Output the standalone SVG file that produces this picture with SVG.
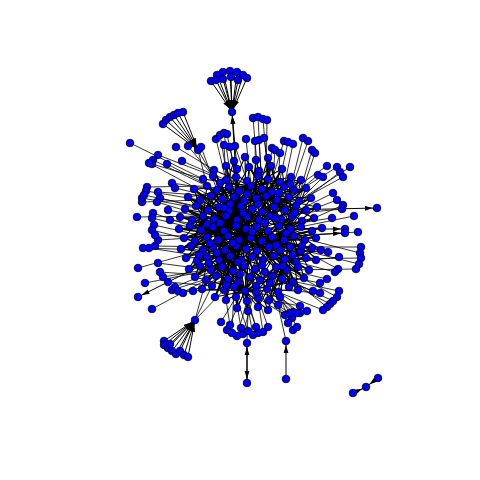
<svg xmlns="http://www.w3.org/2000/svg" width="480" height="480" viewBox="0 0 480 480">
<style>
.e{fill:none;stroke:#000;stroke-width:0.8}
.c{fill:none;stroke:#000;stroke-width:1.1}
.a{fill:none;stroke:#000;stroke-width:1;marker-end:url(#ah)}
circle{fill:#0000ff;stroke:#000;stroke-width:0.8}
</style>
<defs><marker id="ah" markerUnits="userSpaceOnUse" markerWidth="14" markerHeight="6" refX="12" refY="3" orient="auto"><path d="M0,0.6 L8,3 L0,5.4z" fill="#000"/></marker></defs>
<rect width="480" height="480" fill="#fff"/>
<g id="edges">
<path class="c" d="M237 220L234 161M237 220L214 170M237 220L226 166M237 220L237 169M237 220L203 179M237 220L213 176M237 220L226 180M237 220L236 177M237 220L247 181M237 220L194 189M237 220L207 186M237 220L217 190M237 220L229 187M237 220L239 191M237 220L188 197M237 220L200 200M237 220L211 196M237 220L222 199M237 220L234 197M237 220L244 201M237 220L185 209M237 220L196 206M237 220L208 210M237 220L219 207M237 220L229 211M237 220L241 206M237 220L180 217M237 220L192 220M237 220L203 216M237 220L214 219M237 220L226 216M237 220L179 229M237 220L190 226M237 220L201 230M237 220L213 227M237 220L224 231M237 220L236 226M237 220L184 238M237 220L195 241M237 220L207 237M237 220L218 240M237 220L228 236M237 220L239 240M237 220L181 249M237 220L191 246"/>
<path class="c" d="M266 196L245 157M266 196L256 160M266 196L268 158M266 196L249 167M266 196L259 171M266 196L271 166M266 196L282 169M266 196L258 176M266 196L268 179M266 196L280 182M266 196L291 177M266 196L301 180M266 196L251 186M266 196L262 189M266 196L272 192M266 196L284 187M266 196L294 190M266 196L306 188M266 196L256 198M266 196L277 200M266 196L289 197M266 196L299 201M266 196L311 198M266 196L252 209M266 196L262 212M266 196L274 207M266 196L285 210M266 196L296 206M266 196L306 210M266 196L317 207M266 196L247 217M266 196L259 220M266 196L270 216M266 196L281 219M266 196L292 217M266 196L302 221M266 196L314 218M266 196L229 211M266 196L241 206M266 196L244 201M266 196L239 191"/>
<path class="c" d="M262 241L246 229M262 241L257 227M262 241L268 231M262 241L279 226M262 241L290 229M262 241L301 227M262 241L312 231M262 241L322 228M262 241L251 238M262 241L272 237M262 241L284 240M262 241L294 236M262 241L305 240M262 241L316 238M262 241L246 249M262 241L257 251M262 241L269 247M262 241L280 250M262 241L290 247M262 241L301 251M262 241L312 248M262 241L321 250M262 241L252 257M262 241L263 260M262 241L274 256M262 241L255 269M262 241L265 272M262 241L247 217M262 241L259 220M262 241L270 216M262 241L281 219M262 241L292 217M262 241L302 221M262 241L314 218"/>
<path class="c" d="M230 256L203 250M230 256L213 247M230 256L225 250M230 256L236 246M230 256L186 258M230 256L197 261M230 256L207 257M230 256L219 260M230 256L241 260M230 256L189 269M230 256L200 266M230 256L211 270M230 256L222 267M230 256L233 271M230 256L244 266M230 256L195 277M230 256L206 280M230 256L216 276M230 256L228 279M230 256L238 282M230 256L250 277M230 256L202 289M230 256L212 286M230 256L224 290M230 256L234 287M230 256L245 291M230 256L215 297M230 256L226 300M230 256L236 297M230 256L247 301M230 256L237 308M230 256L248 311M230 256L218 240M230 256L207 237M230 256L195 241M230 256L184 238M230 256L181 249M230 256L191 246"/>
<path class="c" d="M285 259L296 262M285 259L306 258M285 259L316 260M285 259L276 267M285 259L287 270M285 259L298 267M285 259L309 270M285 259L260 280M285 259L272 276M285 259L282 279M285 259L293 282M285 259L304 278M285 259L256 286M285 259L267 289M285 259L278 292M285 259L289 287M285 259L298 290M285 259L258 298M285 259L269 300M285 259L280 297M285 259L258 307M285 259L268 310M285 259L290 247M285 259L301 251M285 259L312 248M285 259L321 250M285 259L274 256M285 259L263 260"/>
<path class="c" d="M237 220L262 241M237 220L230 256M237 220L266 196M262 241L230 256M262 241L266 196M262 241L285 259M230 256L285 259M266 196L285 259M213 227L262 241M251 238L203 250M251 238L222 199M251 238L277 200M251 238L233 271"/>
<path class="c" d="M213 227L234 161M213 227L245 157M213 227L249 167M213 227L258 176M213 227L268 179M213 227L280 182M213 227L262 189M213 227L272 192M213 227L256 198M213 227L252 209M213 227L262 212M213 227L259 220M213 227L257 227M213 227L268 231M213 227L251 238M213 227L246 249M213 227L257 251M213 227L252 257M213 227L241 260M213 227L244 266M213 227L255 269M213 227L250 277M213 227L238 282M213 227L245 291M213 227L236 297M213 227L226 300M213 227L228 279M213 227L233 271M213 227L188 197M213 227L185 209M213 227L180 217M213 227L179 229M213 227L184 238M213 227L181 249M213 227L186 258M213 227L189 269M213 227L195 277M213 227L202 289"/>
<path class="c" d="M290 229L268 158M290 229L271 166M290 229L282 169M290 229L291 177M290 229L301 180M290 229L306 188M290 229L311 198M290 229L317 207M290 229L314 218M290 229L322 228M290 229L316 238M290 229L321 250M290 229L316 260M290 229L309 270M290 229L304 278M290 229L298 290M290 229L280 297M290 229L289 287M290 229L269 300M290 229L265 272M290 229L255 269M290 229L252 257M290 229L246 249M290 229L246 229M290 229L247 217M290 229L252 209M290 229L256 198M290 229L251 186M290 229L259 171"/>
<path class="c" d="M251 186L214 170M251 186L226 166M251 186L203 179M251 186L194 189M251 186L188 197M251 186L200 200M251 186L211 196M251 186L222 199M251 186L219 207M251 186L229 211M251 186L226 216M251 186L236 226M251 186L224 231M251 186L228 236M251 186L239 240M251 186L246 229M251 186L257 227M251 186L279 226M251 186L281 219M251 186L292 217M251 186L296 206M251 186L299 201M251 186L294 190M251 186L301 180M251 186L291 177M251 186L282 169M251 186L271 166"/>
<path class="c" d="M245 291L215 297M245 291L202 289M245 291L206 280M245 291L195 277M245 291L211 270M245 291L200 266M245 291L219 260M245 291L207 257M245 291L225 250M245 291L236 246M245 291L251 238M245 291L262 241M245 291L269 247M245 291L274 256M245 291L287 270M245 291L298 267M245 291L293 282M245 291L304 278M245 291L298 290M245 291L280 297M245 291L268 310M245 291L258 307M245 291L237 308M245 291L248 311M245 291L226 300"/>
<path class="c" d="M203 216L185 209M203 216L196 206M203 216L192 220M203 216L190 226M203 216L201 230M203 216L184 238M203 216L195 241M203 216L207 237M203 216L218 240M203 216L213 247M203 216L203 250M203 216L191 246M203 216L214 219M203 216L219 207M203 216L208 210M203 216L200 200M203 216L211 196M203 216L194 189M203 216L207 186M203 216L217 190M203 216L229 187M203 216L236 177M203 216L226 180"/>
<path class="c" d="M230 204L237 220M230 204L266 196M258 204L237 220M258 204L262 241M243 213L230 256M243 213L266 196M220 223L262 241M220 223L251 186M265 223L230 256M265 223L237 220M252 232L213 227M252 232L285 259M233 243L266 196M233 243L245 291M276 245L237 220M276 245L245 291M217 253L262 241M217 253L237 220M262 265L237 220M262 265L230 256M240 274L262 241M240 274L213 227M283 266L262 241M283 266L245 291M226 285L230 256M226 285L262 241M270 283L285 259M270 283L230 256M209 263L237 220M209 263L245 291M293 255L262 241M293 255L251 186M295 213L266 196M295 213L262 241M207 224L237 220M207 224L230 256M247 194L237 220M247 194L290 229M279 193L266 196M279 193L213 227M220 183L237 220M220 183L251 186M290 184L266 196M290 184L290 229M199 255L230 256M199 255L213 227M302 246L262 241M302 246L285 259M256 292L245 291M256 292L285 259M238 262L262 241M238 262L203 216M275 218L237 220M275 218L285 259M224 208L213 227M224 208L266 196M286 233L262 241M286 233L251 186M210 243L237 220M210 243L245 291"/>
<path class="c" d="M234 161L258 307M245 157L248 311M256 160L237 308M268 158L226 300M214 170L280 297M282 169L215 297M203 179L298 290M301 180L202 289M194 189L304 278M306 188L195 277M188 197L309 270M311 198L189 269M185 209L316 260M317 207L186 258M180 217L321 250M314 218L181 249M179 229L316 238M322 228L184 238M184 238L317 207M181 249L311 198M186 258L306 188M189 269L301 180M195 277L291 177M202 289L282 169M215 297L271 166M226 300L259 171M237 308L249 167M248 311L237 169M258 307L226 166M268 310L214 170M280 297L203 179M298 290L194 189M304 278L188 197M309 270L185 209M316 260L180 217M321 250L179 229M226 166L269 300M237 169L247 301M259 171L236 297M271 166L224 290M291 177L212 286M213 176L289 287M207 186L293 282M294 190L206 280M196 206L298 267M306 210L200 266M192 220L305 240M302 221L191 246M190 226L312 248M312 231L197 261M195 241L306 258M301 251L200 200M203 250L299 201M296 262L208 210M211 270L289 197M287 270L211 196M222 267L277 200M276 267L222 199M233 271L262 189M265 272L229 187"/>
<path class="e" d="M253 118L258 176M258 117L262 189M263 119L268 179M267 120L266 196M246 139L251 186M255 141L256 198M259 140L262 189M264 138L272 192M216 139L226 180M220 135L229 187M224 133L234 197M227 134L239 191M235 146L247 181M230 147L236 177M224 145L226 180M201 147L217 190M176 147L214 170M188 146L213 176M198 150L207 186M198 150L213 176"/>
<path class="e" d="M272 148L266 196M275 150L272 192M280 153L277 200M284 141L262 212M288 142L274 207M293 144L284 187M303 138L285 210M308 141L289 197M312 150L296 206M315 153L299 201M327 166L277 200M337 167L289 197M350 167L285 210M340 172L296 206M343 177L299 201M318 175L270 216M323 177L281 219M333 193L281 219M337 200L292 217M343 205L290 229M342 209L270 216M332 218L279 226M354 216L290 229M358 232L272 237"/>
<path class="e" d="M361 247L290 247M360 253L294 236M361 258L285 259M359 264L290 247M356 269L287 270M338 269L284 240M335 272L285 259M339 257L296 262M328 252L280 250M327 279L276 267M339 291L282 279M337 297L287 270M333 301L293 282M330 304L282 279M327 307L276 267M323 310L278 292M320 283L265 272M313 291L272 276M320 293L267 289M307 311L278 292M300 306L269 300M300 313L280 297M293 312L267 289M292 318L269 300M293 330L280 297M297 327L278 292M288 323L267 289M285 315L258 298M290 313L269 300M297 313L280 297M278 305L260 280M286 341L278 305"/>
<path class="e" d="M221 322L236 297M227 330L245 291M232 333L234 287M237 336L247 301M243 334L256 286M248 331L236 297M253 335L245 291M258 333L247 301M263 332L256 286M268 327L258 298M241 328L234 287M256 327L245 291M230 325L226 300M247 343L248 311M195 320L212 286M195 320L206 280M195 320L224 290"/>
<path class="e" d="M138 268L203 250M145 283L211 270M152 309L206 280M143 248L203 250M149 248L207 257M155 246L213 247M158 240L207 237M158 263L211 270M160 272L216 276M163 277L222 267M168 282L212 286M172 290L216 276M175 287L222 267M178 291L224 290M183 293L228 279M193 291L233 271M130 143L203 179M137 217L203 216M142 202L200 200M142 198L208 210M147 187L207 186M146 191L200 200M144 195L196 206M158 155L213 176M153 160L207 186M152 164L203 179M149 163L211 196M167 164L217 190M182 161L226 180M158 192L211 196M160 198L208 210M157 202L203 216M153 213L203 230M152 218L201 230M154 225L207 237M152 230L195 241M155 235L207 237M172 183L217 190M175 188L222 199M168 210L214 219M170 220L213 227"/>
<path class="a" d="M211 81L232 112"/><path class="a" d="M217 75L232 112"/><path class="a" d="M223 72L232 112"/><path class="a" d="M230 71L232 112"/><path class="a" d="M237 72L232 112"/><path class="a" d="M243 75L232 112"/><path class="a" d="M247 78L232 112"/><path class="a" d="M216 80L232 112"/><path class="a" d="M223 79L232 112"/><path class="a" d="M231 77L232 112"/><path class="a" d="M238 80L232 112"/>
<path class="a" d="M236 177L232 112"/><path class="a" d="M237 169L232 112"/>
<path class="a" d="M163 124L198 150"/><path class="a" d="M166 120L198 150"/><path class="a" d="M170 117L198 150"/><path class="a" d="M174 115L198 150"/><path class="a" d="M178 113L198 150"/><path class="a" d="M183 112L198 150"/>
<path class="a" d="M164 341L195 320"/><path class="a" d="M164 345L195 320"/><path class="a" d="M168 348L195 320"/><path class="a" d="M172 351L195 320"/><path class="a" d="M176 354L195 320"/><path class="a" d="M180 351L195 320"/><path class="a" d="M184 355L195 320"/><path class="a" d="M188 357L195 320"/><path class="a" d="M170 344L195 320"/>
<path class="a" d="M285 210L377 208"/><path class="a" d="M200 266L138 297"/><path class="a" d="M290 229L345 229"/><path class="a" d="M294 236L345 233"/>
<path class="a" d="M247 383L247 343"/><path class="a" d="M247 343L247 383"/><path class="a" d="M286 379L286 341"/>
<path class="a" d="M353 393L366 387"/><path class="a" d="M378 378L366 387"/>
</g>
<g id="nodes">
<g id="b1"><circle cx="234" cy="161" r="3.8"/></g><g id="b2"><circle cx="245" cy="157" r="3.8"/></g><g id="b3"><circle cx="256" cy="160" r="3.8"/></g><g id="b4"><circle cx="268" cy="158" r="3.8"/></g>
<g id="b5"><circle cx="214" cy="170" r="3.8"/></g><g id="b6"><circle cx="226" cy="166" r="3.8"/></g><g id="b7"><circle cx="237" cy="169" r="3.8"/></g><g id="b8"><circle cx="249" cy="167" r="3.8"/></g><g id="b9"><circle cx="259" cy="171" r="3.8"/></g><g id="b10"><circle cx="271" cy="166" r="3.8"/></g><g id="b11"><circle cx="282" cy="169" r="3.8"/></g>
<g id="b12"><circle cx="203" cy="179" r="3.8"/></g><g id="b13"><circle cx="213" cy="176" r="3.8"/></g><g id="b14"><circle cx="226" cy="180" r="3.8"/></g><g id="b15"><circle cx="236" cy="177" r="3.8"/></g><g id="b16"><circle cx="247" cy="181" r="3.8"/></g><g id="b17"><circle cx="258" cy="176" r="3.8"/></g><g id="b18"><circle cx="268" cy="179" r="3.8"/></g><g id="b19"><circle cx="280" cy="182" r="3.8"/></g><g id="b20"><circle cx="291" cy="177" r="3.8"/></g><g id="b21"><circle cx="301" cy="180" r="3.8"/></g>
<g id="b22"><circle cx="194" cy="189" r="3.8"/></g><g id="b23"><circle cx="207" cy="186" r="3.8"/></g><g id="b24"><circle cx="217" cy="190" r="3.8"/></g><g id="b25"><circle cx="229" cy="187" r="3.8"/></g><g id="b26"><circle cx="239" cy="191" r="3.8"/></g><g id="b27"><circle cx="251" cy="186" r="3.8"/></g><g id="b28"><circle cx="262" cy="189" r="3.8"/></g><g id="b29"><circle cx="272" cy="192" r="3.8"/></g><g id="b30"><circle cx="284" cy="187" r="3.8"/></g><g id="b31"><circle cx="294" cy="190" r="3.8"/></g><g id="b32"><circle cx="306" cy="188" r="3.8"/></g>
<g id="b33"><circle cx="188" cy="197" r="3.8"/></g><g id="b34"><circle cx="200" cy="200" r="3.8"/></g><g id="b35"><circle cx="211" cy="196" r="3.8"/></g><g id="b36"><circle cx="222" cy="199" r="3.8"/></g><g id="b37"><circle cx="234" cy="197" r="3.8"/></g><g id="b38"><circle cx="244" cy="201" r="3.8"/></g><g id="b39"><circle cx="256" cy="198" r="3.8"/></g><g id="b40"><circle cx="266" cy="196" r="3.8"/></g><g id="b41"><circle cx="277" cy="200" r="3.8"/></g><g id="b42"><circle cx="289" cy="197" r="3.8"/></g><g id="b43"><circle cx="299" cy="201" r="3.8"/></g><g id="b44"><circle cx="311" cy="198" r="3.8"/></g>
<g id="b45"><circle cx="185" cy="209" r="3.8"/></g><g id="b46"><circle cx="196" cy="206" r="3.8"/></g><g id="b47"><circle cx="208" cy="210" r="3.8"/></g><g id="b48"><circle cx="219" cy="207" r="3.8"/></g><g id="b49"><circle cx="229" cy="211" r="3.8"/></g><g id="b50"><circle cx="241" cy="206" r="3.8"/></g><g id="b51"><circle cx="252" cy="209" r="3.8"/></g><g id="b52"><circle cx="262" cy="212" r="3.8"/></g><g id="b53"><circle cx="274" cy="207" r="3.8"/></g><g id="b54"><circle cx="285" cy="210" r="3.8"/></g><g id="b55"><circle cx="296" cy="206" r="3.8"/></g><g id="b56"><circle cx="306" cy="210" r="3.8"/></g><g id="b57"><circle cx="317" cy="207" r="3.8"/></g>
<g id="b58"><circle cx="180" cy="217" r="3.8"/></g><g id="b59"><circle cx="192" cy="220" r="3.8"/></g><g id="b60"><circle cx="203" cy="216" r="3.8"/></g><g id="b61"><circle cx="214" cy="219" r="3.8"/></g><g id="b62"><circle cx="226" cy="216" r="3.8"/></g><g id="b63"><circle cx="237" cy="220" r="3.8"/></g><g id="b64"><circle cx="247" cy="217" r="3.8"/></g><g id="b65"><circle cx="259" cy="220" r="3.8"/></g><g id="b66"><circle cx="270" cy="216" r="3.8"/></g><g id="b67"><circle cx="281" cy="219" r="3.8"/></g><g id="b68"><circle cx="292" cy="217" r="3.8"/></g><g id="b69"><circle cx="302" cy="221" r="3.8"/></g><g id="b70"><circle cx="314" cy="218" r="3.8"/></g>
<g id="b71"><circle cx="179" cy="229" r="3.8"/></g><g id="b72"><circle cx="190" cy="226" r="3.8"/></g><g id="b73"><circle cx="201" cy="230" r="3.8"/></g><g id="b74"><circle cx="213" cy="227" r="3.8"/></g><g id="b75"><circle cx="224" cy="231" r="3.8"/></g><g id="b76"><circle cx="236" cy="226" r="3.8"/></g><g id="b77"><circle cx="246" cy="229" r="3.8"/></g><g id="b78"><circle cx="257" cy="227" r="3.8"/></g><g id="b79"><circle cx="268" cy="231" r="3.8"/></g><g id="b80"><circle cx="279" cy="226" r="3.8"/></g><g id="b81"><circle cx="290" cy="229" r="3.8"/></g><g id="b82"><circle cx="301" cy="227" r="3.8"/></g><g id="b83"><circle cx="312" cy="231" r="3.8"/></g><g id="b84"><circle cx="322" cy="228" r="3.8"/></g>
<g id="b85"><circle cx="184" cy="238" r="3.8"/></g><g id="b86"><circle cx="195" cy="241" r="3.8"/></g><g id="b87"><circle cx="207" cy="237" r="3.8"/></g><g id="b88"><circle cx="218" cy="240" r="3.8"/></g><g id="b89"><circle cx="228" cy="236" r="3.8"/></g><g id="b90"><circle cx="239" cy="240" r="3.8"/></g><g id="b91"><circle cx="251" cy="238" r="3.8"/></g><g id="b92"><circle cx="262" cy="241" r="3.8"/></g><g id="b93"><circle cx="272" cy="237" r="3.8"/></g><g id="b94"><circle cx="284" cy="240" r="3.8"/></g><g id="b95"><circle cx="294" cy="236" r="3.8"/></g><g id="b96"><circle cx="305" cy="240" r="3.8"/></g><g id="b97"><circle cx="316" cy="238" r="3.8"/></g>
<g id="b98"><circle cx="181" cy="249" r="3.8"/></g><g id="b99"><circle cx="191" cy="246" r="3.8"/></g><g id="b100"><circle cx="203" cy="250" r="3.8"/></g><g id="b101"><circle cx="213" cy="247" r="3.8"/></g><g id="b102"><circle cx="225" cy="250" r="3.8"/></g><g id="b103"><circle cx="236" cy="246" r="3.8"/></g><g id="b104"><circle cx="246" cy="249" r="3.8"/></g><g id="b105"><circle cx="257" cy="251" r="3.8"/></g><g id="b106"><circle cx="269" cy="247" r="3.8"/></g><g id="b107"><circle cx="280" cy="250" r="3.8"/></g><g id="b108"><circle cx="290" cy="247" r="3.8"/></g><g id="b109"><circle cx="301" cy="251" r="3.8"/></g><g id="b110"><circle cx="312" cy="248" r="3.8"/></g><g id="b111"><circle cx="321" cy="250" r="3.8"/></g>
<g id="b112"><circle cx="186" cy="258" r="3.8"/></g><g id="b113"><circle cx="197" cy="261" r="3.8"/></g><g id="b114"><circle cx="207" cy="257" r="3.8"/></g><g id="b115"><circle cx="219" cy="260" r="3.8"/></g><g id="b116"><circle cx="230" cy="256" r="3.8"/></g><g id="b117"><circle cx="241" cy="260" r="3.8"/></g><g id="b118"><circle cx="252" cy="257" r="3.8"/></g><g id="b119"><circle cx="263" cy="260" r="3.8"/></g><g id="b120"><circle cx="274" cy="256" r="3.8"/></g><g id="b121"><circle cx="285" cy="259" r="3.8"/></g><g id="b122"><circle cx="296" cy="262" r="3.8"/></g><g id="b123"><circle cx="306" cy="258" r="3.8"/></g><g id="b124"><circle cx="316" cy="260" r="3.8"/></g>
<g id="b125"><circle cx="189" cy="269" r="3.8"/></g><g id="b126"><circle cx="200" cy="266" r="3.8"/></g><g id="b127"><circle cx="211" cy="270" r="3.8"/></g><g id="b128"><circle cx="222" cy="267" r="3.8"/></g><g id="b129"><circle cx="233" cy="271" r="3.8"/></g><g id="b130"><circle cx="244" cy="266" r="3.8"/></g><g id="b131"><circle cx="255" cy="269" r="3.8"/></g><g id="b132"><circle cx="265" cy="272" r="3.8"/></g><g id="b133"><circle cx="276" cy="267" r="3.8"/></g><g id="b134"><circle cx="287" cy="270" r="3.8"/></g><g id="b135"><circle cx="298" cy="267" r="3.8"/></g><g id="b136"><circle cx="309" cy="270" r="3.8"/></g>
<g id="b137"><circle cx="195" cy="277" r="3.8"/></g><g id="b138"><circle cx="206" cy="280" r="3.8"/></g><g id="b139"><circle cx="216" cy="276" r="3.8"/></g><g id="b140"><circle cx="228" cy="279" r="3.8"/></g><g id="b141"><circle cx="238" cy="282" r="3.8"/></g><g id="b142"><circle cx="250" cy="277" r="3.8"/></g><g id="b143"><circle cx="260" cy="280" r="3.8"/></g><g id="b144"><circle cx="272" cy="276" r="3.8"/></g><g id="b145"><circle cx="282" cy="279" r="3.8"/></g><g id="b146"><circle cx="293" cy="282" r="3.8"/></g><g id="b147"><circle cx="304" cy="278" r="3.8"/></g>
<g id="b148"><circle cx="202" cy="289" r="3.8"/></g><g id="b149"><circle cx="212" cy="286" r="3.8"/></g><g id="b150"><circle cx="224" cy="290" r="3.8"/></g><g id="b151"><circle cx="234" cy="287" r="3.8"/></g><g id="b152"><circle cx="245" cy="291" r="3.8"/></g><g id="b153"><circle cx="256" cy="286" r="3.8"/></g><g id="b154"><circle cx="267" cy="289" r="3.8"/></g><g id="b155"><circle cx="278" cy="292" r="3.8"/></g><g id="b156"><circle cx="289" cy="287" r="3.8"/></g><g id="b157"><circle cx="298" cy="290" r="3.8"/></g>
<g id="b158"><circle cx="215" cy="297" r="3.8"/></g><g id="b159"><circle cx="226" cy="300" r="3.8"/></g><g id="b160"><circle cx="236" cy="297" r="3.8"/></g><g id="b161"><circle cx="247" cy="301" r="3.8"/></g><g id="b162"><circle cx="258" cy="298" r="3.8"/></g><g id="b163"><circle cx="269" cy="300" r="3.8"/></g><g id="b164"><circle cx="280" cy="297" r="3.8"/></g>
<g id="b165"><circle cx="237" cy="308" r="3.8"/></g><g id="b166"><circle cx="248" cy="311" r="3.8"/></g><g id="b167"><circle cx="258" cy="307" r="3.8"/></g><g id="b168"><circle cx="268" cy="310" r="3.8"/></g>
<g id="x1"><circle cx="230" cy="204" r="3.8"/></g><g id="x2"><circle cx="258" cy="204" r="3.8"/></g><g id="x3"><circle cx="243" cy="213" r="3.8"/></g><g id="x4"><circle cx="220" cy="223" r="3.8"/></g><g id="x5"><circle cx="265" cy="223" r="3.8"/></g><g id="x6"><circle cx="252" cy="232" r="3.8"/></g><g id="x7"><circle cx="233" cy="243" r="3.8"/></g><g id="x8"><circle cx="276" cy="245" r="3.8"/></g><g id="x9"><circle cx="217" cy="253" r="3.8"/></g><g id="x10"><circle cx="262" cy="265" r="3.8"/></g><g id="x11"><circle cx="240" cy="274" r="3.8"/></g><g id="x12"><circle cx="283" cy="266" r="3.8"/></g><g id="x13"><circle cx="226" cy="285" r="3.8"/></g><g id="x14"><circle cx="270" cy="283" r="3.8"/></g><g id="x15"><circle cx="209" cy="263" r="3.8"/></g><g id="x16"><circle cx="293" cy="255" r="3.8"/></g><g id="x17"><circle cx="295" cy="213" r="3.8"/></g><g id="x18"><circle cx="207" cy="224" r="3.8"/></g><g id="x19"><circle cx="247" cy="194" r="3.8"/></g><g id="x20"><circle cx="279" cy="193" r="3.8"/></g><g id="x21"><circle cx="220" cy="183" r="3.8"/></g><g id="x22"><circle cx="290" cy="184" r="3.8"/></g><g id="x23"><circle cx="199" cy="255" r="3.8"/></g><g id="x24"><circle cx="302" cy="246" r="3.8"/></g><g id="x25"><circle cx="256" cy="292" r="3.8"/></g><g id="x26"><circle cx="238" cy="262" r="3.8"/></g><g id="x27"><circle cx="275" cy="218" r="3.8"/></g><g id="x28"><circle cx="224" cy="208" r="3.8"/></g><g id="x29"><circle cx="286" cy="233" r="3.8"/></g><g id="x30"><circle cx="210" cy="243" r="3.8"/></g>
<g id="t1"><circle cx="211" cy="81" r="3.8"/></g><g id="t2"><circle cx="217" cy="75" r="3.8"/></g><g id="t3"><circle cx="223" cy="72" r="3.8"/></g><g id="t4"><circle cx="230" cy="71" r="3.8"/></g><g id="t5"><circle cx="237" cy="72" r="3.8"/></g><g id="t6"><circle cx="243" cy="75" r="3.8"/></g><g id="t7"><circle cx="247" cy="78" r="3.8"/></g><g id="t8"><circle cx="216" cy="80" r="3.8"/></g><g id="t9"><circle cx="223" cy="79" r="3.8"/></g><g id="t10"><circle cx="231" cy="77" r="3.8"/></g><g id="t11"><circle cx="238" cy="80" r="3.8"/></g><g id="t12"><circle cx="232" cy="112" r="3.8"/></g>
<g id="u1"><circle cx="163" cy="124" r="3.8"/></g><g id="u2"><circle cx="166" cy="120" r="3.8"/></g><g id="u3"><circle cx="170" cy="117" r="3.8"/></g><g id="u4"><circle cx="174" cy="115" r="3.8"/></g><g id="u5"><circle cx="178" cy="113" r="3.8"/></g><g id="u6"><circle cx="183" cy="112" r="3.8"/></g><g id="u7"><circle cx="198" cy="150" r="3.8"/></g><g id="u8"><circle cx="188" cy="146" r="3.8"/></g>
<g id="m1"><circle cx="253" cy="118" r="3.8"/></g><g id="m2"><circle cx="258" cy="117" r="3.8"/></g><g id="m3"><circle cx="263" cy="119" r="3.8"/></g><g id="m4"><circle cx="267" cy="120" r="3.8"/></g><g id="m5"><circle cx="246" cy="139" r="3.8"/></g><g id="m6"><circle cx="255" cy="141" r="3.8"/></g><g id="m7"><circle cx="259" cy="140" r="3.8"/></g><g id="m8"><circle cx="264" cy="138" r="3.8"/></g><g id="m9"><circle cx="216" cy="139" r="3.8"/></g><g id="m10"><circle cx="220" cy="135" r="3.8"/></g><g id="m11"><circle cx="224" cy="133" r="3.8"/></g><g id="m12"><circle cx="227" cy="134" r="3.8"/></g><g id="m13"><circle cx="235" cy="146" r="3.8"/></g><g id="m14"><circle cx="230" cy="147" r="3.8"/></g><g id="m15"><circle cx="224" cy="145" r="3.8"/></g><g id="m16"><circle cx="201" cy="147" r="3.8"/></g><g id="m17"><circle cx="176" cy="147" r="3.8"/></g>
<g id="r1"><circle cx="272" cy="148" r="3.8"/></g><g id="r2"><circle cx="275" cy="150" r="3.8"/></g><g id="r3"><circle cx="280" cy="153" r="3.8"/></g><g id="r4"><circle cx="284" cy="141" r="3.8"/></g><g id="r5"><circle cx="288" cy="142" r="3.8"/></g><g id="r6"><circle cx="293" cy="144" r="3.8"/></g><g id="r7"><circle cx="303" cy="138" r="3.8"/></g><g id="r8"><circle cx="308" cy="141" r="3.8"/></g><g id="r9"><circle cx="312" cy="150" r="3.8"/></g><g id="r10"><circle cx="315" cy="153" r="3.8"/></g>
<g id="r11"><circle cx="327" cy="166" r="3.8"/></g><g id="r12"><circle cx="337" cy="167" r="3.8"/></g><g id="r13"><circle cx="350" cy="167" r="3.8"/></g><g id="r14"><circle cx="340" cy="172" r="3.8"/></g><g id="r15"><circle cx="343" cy="177" r="3.8"/></g><g id="r16"><circle cx="318" cy="175" r="3.8"/></g><g id="r17"><circle cx="323" cy="177" r="3.8"/></g><g id="r18"><circle cx="333" cy="193" r="3.8"/></g><g id="r19"><circle cx="337" cy="200" r="3.8"/></g><g id="r20"><circle cx="343" cy="205" r="3.8"/></g><g id="r21"><circle cx="342" cy="209" r="3.8"/></g><g id="r22"><circle cx="332" cy="218" r="3.8"/></g><g id="r23"><circle cx="354" cy="216" r="3.8"/></g><g id="r24"><circle cx="345" cy="229" r="3.8"/></g><g id="r25"><circle cx="345" cy="233" r="3.8"/></g><g id="r26"><circle cx="358" cy="232" r="3.8"/></g><g id="r27"><circle cx="377" cy="208" r="3.8"/></g>
<g id="s1"><circle cx="361" cy="247" r="3.8"/></g><g id="s2"><circle cx="360" cy="253" r="3.8"/></g><g id="s3"><circle cx="361" cy="258" r="3.8"/></g><g id="s4"><circle cx="359" cy="264" r="3.8"/></g><g id="s5"><circle cx="356" cy="269" r="3.8"/></g><g id="s6"><circle cx="338" cy="269" r="3.8"/></g><g id="s7"><circle cx="335" cy="272" r="3.8"/></g><g id="s8"><circle cx="339" cy="257" r="3.8"/></g><g id="s9"><circle cx="328" cy="252" r="3.8"/></g><g id="s10"><circle cx="327" cy="279" r="3.8"/></g><g id="s11"><circle cx="339" cy="291" r="3.8"/></g><g id="s12"><circle cx="337" cy="297" r="3.8"/></g><g id="s13"><circle cx="333" cy="301" r="3.8"/></g><g id="s14"><circle cx="330" cy="304" r="3.8"/></g><g id="s15"><circle cx="327" cy="307" r="3.8"/></g><g id="s16"><circle cx="323" cy="310" r="3.8"/></g><g id="s17"><circle cx="320" cy="283" r="3.8"/></g><g id="s18"><circle cx="313" cy="291" r="3.8"/></g><g id="s19"><circle cx="320" cy="293" r="3.8"/></g><g id="s20"><circle cx="307" cy="311" r="3.8"/></g><g id="s21"><circle cx="300" cy="306" r="3.8"/></g><g id="s22"><circle cx="300" cy="313" r="3.8"/></g><g id="s23"><circle cx="293" cy="312" r="3.8"/></g><g id="s24"><circle cx="292" cy="318" r="3.8"/></g><g id="s25"><circle cx="293" cy="330" r="3.8"/></g><g id="s26"><circle cx="297" cy="327" r="3.8"/></g><g id="s27"><circle cx="288" cy="323" r="3.8"/></g><g id="s28"><circle cx="285" cy="315" r="3.8"/></g><g id="s29"><circle cx="290" cy="313" r="3.8"/></g><g id="s30"><circle cx="297" cy="313" r="3.8"/></g><g id="s31"><circle cx="278" cy="305" r="3.8"/></g><g id="s32"><circle cx="286" cy="341" r="3.8"/></g><g id="s33"><circle cx="286" cy="379" r="3.8"/></g>
<g id="d1"><circle cx="221" cy="322" r="3.8"/></g><g id="d2"><circle cx="227" cy="330" r="3.8"/></g><g id="d3"><circle cx="232" cy="333" r="3.8"/></g><g id="d4"><circle cx="237" cy="336" r="3.8"/></g><g id="d5"><circle cx="243" cy="334" r="3.8"/></g><g id="d6"><circle cx="248" cy="331" r="3.8"/></g><g id="d7"><circle cx="253" cy="335" r="3.8"/></g><g id="d8"><circle cx="258" cy="333" r="3.8"/></g><g id="d9"><circle cx="263" cy="332" r="3.8"/></g><g id="d10"><circle cx="268" cy="327" r="3.8"/></g><g id="d11"><circle cx="241" cy="328" r="3.8"/></g><g id="d12"><circle cx="256" cy="327" r="3.8"/></g><g id="d13"><circle cx="230" cy="325" r="3.8"/></g><g id="d14"><circle cx="247" cy="343" r="3.8"/></g><g id="d15"><circle cx="247" cy="383" r="3.8"/></g>
<g id="l1"><circle cx="164" cy="341" r="3.8"/></g><g id="l2"><circle cx="164" cy="345" r="3.8"/></g><g id="l3"><circle cx="168" cy="348" r="3.8"/></g><g id="l4"><circle cx="172" cy="351" r="3.8"/></g><g id="l5"><circle cx="176" cy="354" r="3.8"/></g><g id="l6"><circle cx="180" cy="351" r="3.8"/></g><g id="l7"><circle cx="184" cy="355" r="3.8"/></g><g id="l8"><circle cx="188" cy="357" r="3.8"/></g><g id="l9"><circle cx="170" cy="344" r="3.8"/></g><g id="l10"><circle cx="195" cy="320" r="3.8"/></g>
<g id="w1"><circle cx="138" cy="268" r="3.8"/></g><g id="w2"><circle cx="145" cy="283" r="3.8"/></g><g id="w3"><circle cx="138" cy="297" r="3.8"/></g><g id="w4"><circle cx="152" cy="309" r="3.8"/></g><g id="w5"><circle cx="143" cy="248" r="3.8"/></g><g id="w6"><circle cx="149" cy="248" r="3.8"/></g><g id="w7"><circle cx="155" cy="246" r="3.8"/></g><g id="w8"><circle cx="158" cy="240" r="3.8"/></g><g id="w9"><circle cx="158" cy="263" r="3.8"/></g><g id="w10"><circle cx="160" cy="272" r="3.8"/></g><g id="w11"><circle cx="163" cy="277" r="3.8"/></g><g id="w12"><circle cx="168" cy="282" r="3.8"/></g><g id="w13"><circle cx="172" cy="290" r="3.8"/></g><g id="w14"><circle cx="175" cy="287" r="3.8"/></g><g id="w15"><circle cx="178" cy="291" r="3.8"/></g><g id="w16"><circle cx="183" cy="293" r="3.8"/></g><g id="w17"><circle cx="193" cy="291" r="3.8"/></g>
<g id="w18"><circle cx="130" cy="143" r="3.8"/></g><g id="w19"><circle cx="137" cy="217" r="3.8"/></g><g id="w20"><circle cx="142" cy="202" r="3.8"/></g><g id="w21"><circle cx="142" cy="198" r="3.8"/></g><g id="w22"><circle cx="147" cy="187" r="3.8"/></g><g id="w23"><circle cx="146" cy="191" r="3.8"/></g><g id="w24"><circle cx="144" cy="195" r="3.8"/></g><g id="w25"><circle cx="158" cy="155" r="3.8"/></g><g id="w26"><circle cx="153" cy="160" r="3.8"/></g><g id="w27"><circle cx="152" cy="164" r="3.8"/></g><g id="w28"><circle cx="149" cy="163" r="3.8"/></g><g id="w29"><circle cx="167" cy="164" r="3.8"/></g><g id="w30"><circle cx="182" cy="161" r="3.8"/></g><g id="w31"><circle cx="158" cy="192" r="3.8"/></g><g id="w32"><circle cx="160" cy="198" r="3.8"/></g><g id="w33"><circle cx="157" cy="202" r="3.8"/></g><g id="w34"><circle cx="153" cy="213" r="3.8"/></g><g id="w35"><circle cx="152" cy="218" r="3.8"/></g><g id="w36"><circle cx="154" cy="225" r="3.8"/></g><g id="w37"><circle cx="152" cy="230" r="3.8"/></g><g id="w38"><circle cx="155" cy="235" r="3.8"/></g><g id="w39"><circle cx="172" cy="183" r="3.8"/></g><g id="w40"><circle cx="175" cy="188" r="3.8"/></g><g id="w41"><circle cx="168" cy="210" r="3.8"/></g><g id="w42"><circle cx="170" cy="220" r="3.8"/></g>
<g id="k1"><circle cx="353" cy="393" r="3.8"/></g><g id="k2"><circle cx="366" cy="387" r="3.8"/></g><g id="k3"><circle cx="378" cy="378" r="3.8"/></g>
</g>
</svg>
